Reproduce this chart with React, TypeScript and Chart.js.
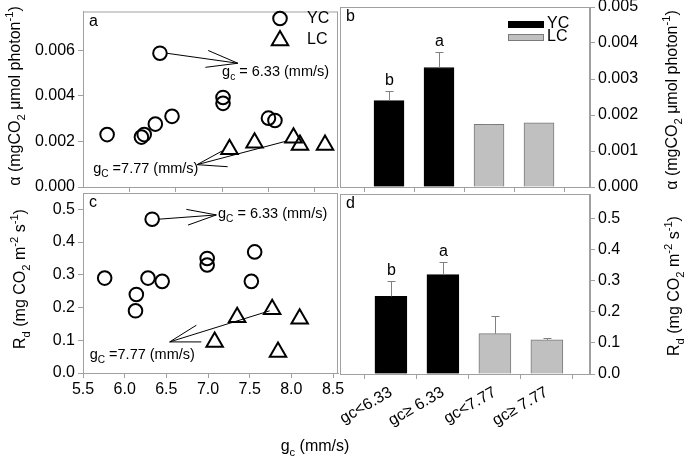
import React, { useEffect, useRef } from 'react';
import { Chart, registerables } from 'chart.js';
Chart.register(...registerables);

const W = 685;
const H = 462;
const FONT = '"Liberation Sans", Arial, sans-serif';
const AXIS = '#a0a0a0';

// ---- Panel a: alpha vs gc (scatter)
const gcYC_a = [5.76, 6.13, 6.16, 6.28, 6.33, 6.46, 7.01, 7.01, 7.50, 7.57];
const alphaYC = [0.0023, 0.00219, 0.0023, 0.00276, 0.00587, 0.0031, 0.00393, 0.00367, 0.00302, 0.00292];
const gcLC_a = [7.08, 7.35, 7.77, 7.84, 8.11];
const alphaLC = [0.00166, 0.00194, 0.00216, 0.00184, 0.00184];

// ---- Panel c: Rd vs gc (scatter)
const gcYC_c = [5.76, 6.14, 6.13, 6.28, 6.45, 6.33, 6.99, 6.99, 7.56, 7.52];
const rdYC = [0.29, 0.24, 0.19, 0.29, 0.28, 0.47, 0.35, 0.33, 0.37, 0.28];
const gcLC_c = [7.08, 7.35, 7.77, 7.84, 8.10];
const rdLC = [0.095, 0.17, 0.195, 0.064, 0.166];

// ---- Panels b, d: bar means
const categories = ['gc<6.33', 'gc\u2265 6.33', 'gc<7.77', 'gc\u2265 7.77'];
const groups = ['YC', 'YC', 'LC', 'LC'];
const alphaMeans = [0.0024, 0.00332, 0.00174, 0.00178];
const alphaErr = [0.00027, 0.00043, 0.00002, 0];
const alphaLetters = ['b', 'a', '', ''];
const rdMeans = [0.25, 0.32, 0.13, 0.11];
const rdErr = [0.05, 0.04, 0.057, 0.005];
const rdLetters = ['b', 'a', '', ''];

// ---- tick values
const alphaTicks = [0, 0.002, 0.004, 0.006];
const alphaBarTicks = [0, 0.001, 0.002, 0.003, 0.004, 0.005];
const rdTicks = [0, 0.1, 0.2, 0.3, 0.4, 0.5];
const gcTicksA = [6.0, 6.5, 7.0, 7.5, 8.0];
const gcTicksC = [5.5, 6.0, 6.5, 7.0, 7.5, 8.0, 8.5];
const barTicks = [1, 2, 3, 4];

type Seg = { t: string; sub?: boolean; sup?: boolean };
type Pt = [number, number];
interface Annot { tail: Pt; tip: Pt; barbs: Pt[]; text: Seg[]; textAt: Pt }

const annotsA: Annot[] = [
  { tail: [6.40, 0.00587], tip: [7.17, 0.00543], barbs: [[6.85, 0.00599], [6.82, 0.00525]],
    text: [{ t: 'g' }, { t: 'c', sub: true }, { t: ' = 6.33 (mm/s)' }], textAt: [7.0, 0.00512] },
  { tail: [7.70, 0.00202], tip: [6.73, 0.00098], barbs: [[7.0, 0.00158], [7.06, 0.00089]],
    text: [{ t: 'g' }, { t: 'C', sub: true }, { t: ' =7.77 (mm/s)' }], textAt: [5.61, 0.00086] },
];
const annotsC: Annot[] = [
  { tail: [6.41, 0.47], tip: [7.10, 0.483], barbs: [[6.74, 0.50], [6.76, 0.452]],
    text: [{ t: 'g' }, { t: 'C', sub: true }, { t: ' = 6.33 (mm/s)' }], textAt: [7.12, 0.49] },
  { tail: [7.74, 0.19], tip: [6.54, 0.095], barbs: [[6.86, 0.146], [6.92, 0.095]],
    text: [{ t: 'g' }, { t: 'C', sub: true }, { t: ' =7.77 (mm/s)' }], textAt: [5.58, 0.059] },
];

const titleAlpha: Seg[] = [{ t: '\u03b1 (mgCO' }, { t: '2', sub: true }, { t: ' \u03bcmol photon' }, { t: '-1', sup: true }, { t: ')' }];
const titleRd: Seg[] = [{ t: 'R' }, { t: 'd', sub: true }, { t: ' (mg CO' }, { t: '2', sub: true }, { t: ' m' }, { t: '-2', sup: true }, { t: ' s' }, { t: '-1', sup: true }, { t: ')' }];
const titleX: Seg[] = [{ t: 'g' }, { t: 'c', sub: true }, { t: ' (mm/s)' }];

function drawRich(ctx: CanvasRenderingContext2D, segs: Seg[], x: number, y: number, size: number, align: 'left' | 'center', angle = 0) {
  ctx.save();
  ctx.translate(x, y);
  ctx.rotate(angle);
  const small = size * 0.7;
  const widths = segs.map((s) => {
    ctx.font = `${s.sub || s.sup ? small : size}px ${FONT}`;
    return ctx.measureText(s.t).width;
  });
  const total = widths.reduce((a, b) => a + b, 0);
  let cx = align === 'center' ? -total / 2 : 0;
  ctx.textAlign = 'left';
  ctx.textBaseline = 'alphabetic';
  ctx.fillStyle = '#000';
  const base = size * 0.36;
  segs.forEach((s, i) => {
    ctx.font = `${s.sub || s.sup ? small : size}px ${FONT}`;
    const dy = s.sub ? size * 0.3 : s.sup ? -size * 0.42 : 0;
    ctx.fillText(s.t, cx, base + dy);
    cx += widths[i];
  });
  ctx.restore();
}

function drawTriangle(ctx: CanvasRenderingContext2D, x: number, y: number, r: number) {
  ctx.beginPath();
  ctx.moveTo(x, y - r);
  ctx.lineTo(x + 0.866 * r, y + 0.5 * r);
  ctx.lineTo(x - 0.866 * r, y + 0.5 * r);
  ctx.closePath();
  ctx.stroke();
}

interface Area { l: number; t: number; r: number; b: number }

const tickFont = { size: 16, family: FONT };

function boxPlugin(letter: string) {
  return {
    id: 'box' + letter,
    afterDraw(chart: any) {
      const { ctx, chartArea: a } = chart;
      ctx.save();
      ctx.strokeStyle = AXIS;
      ctx.lineWidth = 1;
      ctx.strokeRect(a.left + 0.5, a.top + 0.5, a.right - a.left - 1, a.bottom - a.top);
      ctx.fillStyle = '#000';
      ctx.font = `16px ${FONT}`;
      ctx.textAlign = 'left';
      ctx.textBaseline = 'middle';
      ctx.fillText(letter, a.left + 6, a.top + 10);
      ctx.restore();
    },
  };
}

function scatterConfig(p: {
  xs1: number[]; ys1: number[]; xs2: number[]; ys2: number[];
  xMin: number; xMax: number; xTicks: number[]; showX: boolean;
  yMax: number; yTicks: number[]; digits: number; area: Area; letter: string;
  annots: Annot[]; legend: boolean;
}): any {
  const { area } = p;
  return {
    type: 'scatter',
    data: {
      datasets: [
        { label: 'YC', data: p.xs1.map((x, i) => ({ x, y: p.ys1[i] })), pointStyle: 'circle', pointRadius: 6.8,
          borderWidth: 2, borderColor: '#000', backgroundColor: 'rgba(0,0,0,0)' },
        { label: 'LC', data: p.xs2.map((x, i) => ({ x, y: p.ys2[i] })), pointStyle: 'triangle', pointRadius: 9.5,
          borderWidth: 2, borderColor: '#000', backgroundColor: 'rgba(0,0,0,0)' },
      ],
    },
    options: {
      responsive: false,
      animation: false,
      events: [],
      layout: { padding: { left: 0, top: area.t, right: W - area.r, bottom: 0 } },
      plugins: { legend: { display: false }, tooltip: { enabled: false } },
      scales: {
        x: {
          type: 'linear', min: p.xMin, max: p.xMax,
          afterBuildTicks: (s: any) => { s.ticks = p.xTicks.map((v) => ({ value: v })); },
          afterFit: (s: any) => { s.height = H - area.b; s.paddingLeft = 0; s.paddingRight = 0; },
          grid: { display: true, drawOnChartArea: false, drawTicks: true, tickLength: 5, color: AXIS },
          border: { display: true, color: AXIS },
          ticks: { display: p.showX, font: tickFont, color: '#000', padding: 2, maxRotation: 0,
            callback: (v: any) => Number(v).toFixed(1) },
        },
        y: {
          type: 'linear', min: 0, max: p.yMax,
          afterBuildTicks: (s: any) => { s.ticks = p.yTicks.map((v) => ({ value: v })); },
          afterFit: (s: any) => { s.width = area.l; s.paddingTop = 0; s.paddingBottom = 0; },
          grid: { display: true, drawOnChartArea: false, drawTicks: true, tickLength: 5, color: AXIS },
          border: { display: true, color: AXIS },
          ticks: { font: tickFont, color: '#000', padding: 3, callback: (v: any) => Number(v).toFixed(p.digits) },
        },
      },
    },
    plugins: [
      boxPlugin(p.letter),
      {
        id: 'annot' + p.letter,
        afterDraw(chart: any) {
          const { ctx, scales, chartArea: a } = chart;
          const X = (v: number) => scales.x.getPixelForValue(v);
          const Y = (v: number) => scales.y.getPixelForValue(v);
          ctx.save();
          ctx.strokeStyle = '#000';
          ctx.lineWidth = 1;
          p.annots.forEach((an) => {
            ctx.beginPath();
            ctx.moveTo(X(an.tail[0]), Y(an.tail[1]));
            ctx.lineTo(X(an.tip[0]), Y(an.tip[1]));
            an.barbs.forEach((b) => {
              ctx.moveTo(X(an.tip[0]), Y(an.tip[1]));
              ctx.lineTo(X(b[0]), Y(b[1]));
            });
            ctx.stroke();
            drawRich(ctx, an.text, X(an.textAt[0]), Y(an.textAt[1]), 14.5, 'left');
          });
          if (p.legend) {
            ctx.lineWidth = 2;
            ctx.beginPath();
            ctx.arc(a.right - 58, a.top + 7, 6.8, 0, Math.PI * 2);
            ctx.stroke();
            drawTriangle(ctx, a.right - 58, a.top + 29, 9.5);
            ctx.fillStyle = '#000';
            ctx.font = `16px ${FONT}`;
            ctx.textAlign = 'left';
            ctx.textBaseline = 'middle';
            ctx.fillText('YC', a.right - 31, a.top + 7);
            ctx.fillText('LC', a.right - 31, a.top + 28);
          }
          ctx.restore();
        },
      },
    ],
  };
}

function barConfig(p: {
  means: number[]; errs: number[]; letters: string[]; yMax: number; yTicks: number[]; digits: number;
  xMin: number; xMax: number; thickness: number;
  area: Area; letter: string; showX: boolean; legend: boolean; titles: boolean;
}): any {
  const { area } = p;
  const mk = (g: string, fill: string, border: string) => ({
    label: g,
    data: p.means.map((m, i) => ({ x: i + 1, y: m })).filter((_, i) => groups[i] === g),
    backgroundColor: fill, borderColor: border, borderWidth: 1, barThickness: p.thickness, grouped: false,
  });
  return {
    type: 'bar',
    data: { datasets: [mk('YC', '#000000', '#000000'), mk('LC', '#c0c0c0', '#7a7a7a')] },
    options: {
      responsive: false,
      animation: false,
      events: [],
      layout: { padding: { left: area.l, top: area.t, right: 0, bottom: 0 } },
      plugins: { legend: { display: false }, tooltip: { enabled: false } },
      scales: {
        x: {
          type: 'linear', min: p.xMin, max: p.xMax, offset: false,
          afterBuildTicks: (s: any) => { s.ticks = barTicks.map((v) => ({ value: v })); },
          afterFit: (s: any) => { s.height = H - area.b; s.paddingLeft = 0; s.paddingRight = 0; },
          grid: { display: true, drawOnChartArea: false, drawTicks: true, tickLength: 5, color: AXIS },
          border: { display: true, color: AXIS },
          ticks: { display: p.showX, font: tickFont, color: '#000', padding: 4, minRotation: 30, maxRotation: 30,
            autoSkip: false, callback: (v: any) => categories[Number(v) - 1] ?? '' },
        },
        y: {
          type: 'linear', position: 'right', min: 0, max: p.yMax,
          afterBuildTicks: (s: any) => { s.ticks = p.yTicks.map((v) => ({ value: v })); },
          afterFit: (s: any) => { s.width = W - area.r; s.paddingTop = 0; s.paddingBottom = 0; },
          grid: { display: true, drawOnChartArea: false, drawTicks: true, tickLength: 5, color: AXIS },
          border: { display: true, color: AXIS },
          ticks: { font: tickFont, color: '#000', padding: 3, callback: (v: any) => Number(v).toFixed(p.digits) },
        },
      },
    },
    plugins: [
      boxPlugin(p.letter),
      {
        id: 'err' + p.letter,
        afterDatasetsDraw(chart: any) {
          const { ctx, scales, chartArea: a } = chart;
          ctx.save();
          ctx.strokeStyle = '#808080';
          ctx.lineWidth = 1;
          p.means.forEach((m, i) => {
            const x = Math.round(scales.x.getPixelForValue(i + 1)) + 0.5;
            const yb = scales.y.getPixelForValue(m);
            const yt = scales.y.getPixelForValue(m + p.errs[i]);
            if (p.errs[i] > 0) {
              ctx.beginPath();
              ctx.moveTo(x, yb);
              ctx.lineTo(x, Math.round(yt) + 0.5);
              ctx.moveTo(x - 4, Math.round(yt) + 0.5);
              ctx.lineTo(x + 4, Math.round(yt) + 0.5);
              ctx.stroke();
            }
            if (p.letters[i]) {
              ctx.fillStyle = '#000';
              ctx.font = `16px ${FONT}`;
              ctx.textAlign = 'center';
              ctx.textBaseline = 'alphabetic';
              ctx.fillText(p.letters[i], x, yt - 6);
            }
          });
          if (p.legend) {
            ctx.fillStyle = '#000';
            ctx.fillRect(a.right - 82, a.top + 14, 36, 7);
            ctx.fillStyle = '#c0c0c0';
            ctx.fillRect(a.right - 82, a.top + 27, 36, 7);
            ctx.strokeStyle = '#7a7a7a';
            ctx.strokeRect(a.right - 81.5, a.top + 27.5, 35, 6);
            ctx.fillStyle = '#000';
            ctx.font = `16px ${FONT}`;
            ctx.textAlign = 'left';
            ctx.textBaseline = 'middle';
            ctx.fillText('YC', a.right - 43, a.top + 17);
            ctx.fillText('LC', a.right - 43, a.top + 30);
          }
          if (p.titles) {
            const r = -Math.PI / 2;
            drawRich(ctx, titleAlpha, 14, 96, 16, 'center', r);
            drawRich(ctx, titleRd, 19, 279, 16, 'center', r);
            drawRich(ctx, titleAlpha, 671, 100, 16, 'center', r);
            drawRich(ctx, titleRd, 673, 286, 16, 'center', r);
            drawRich(ctx, titleX, 315, 445, 16, 'center', 0);
          }
          ctx.restore();
        },
      },
    ],
  };
}

export default function App() {
  const ra = useRef<HTMLCanvasElement>(null);
  const rb = useRef<HTMLCanvasElement>(null);
  const rc = useRef<HTMLCanvasElement>(null);
  const rd = useRef<HTMLCanvasElement>(null);

  useEffect(() => {
    const charts = [
      new Chart(ra.current!, scatterConfig({
        xs1: gcYC_a, ys1: alphaYC, xs2: gcLC_a, ys2: alphaLC, xMin: 5.5, xMax: 8.25, xTicks: gcTicksA, showX: false,
        yMax: 0.0077, yTicks: alphaTicks, digits: 3, area: { l: 83, t: 8, r: 338, b: 187 }, letter: 'a',
        annots: annotsA, legend: true,
      })),
      new Chart(rb.current!, barConfig({
        means: alphaMeans, errs: alphaErr, letters: alphaLetters, yMax: 0.005, yTicks: alphaBarTicks, digits: 3,
        xMin: 0.02, xMax: 5.02, thickness: 30,
        area: { l: 340, t: 7, r: 590, b: 187 }, letter: 'b', showX: false, legend: true, titles: false,
      })),
      new Chart(rc.current!, scatterConfig({
        xs1: gcYC_c, ys1: rdYC, xs2: gcLC_c, ys2: rdLC, xMin: 5.5, xMax: 8.56, xTicks: gcTicksC, showX: true,
        yMax: 0.55, yTicks: rdTicks, digits: 1, area: { l: 83, t: 193, r: 338, b: 373 }, letter: 'c',
        annots: annotsC, legend: false,
      })),
      new Chart(rd.current!, barConfig({
        means: rdMeans, errs: rdErr, letters: rdLetters, yMax: 0.58, yTicks: rdTicks, digits: 1,
        xMin: 0.02, xMax: 4.83, thickness: 32,
        area: { l: 340, t: 194, r: 590, b: 374 }, letter: 'd', showX: true, legend: false, titles: true,
      })),
    ];
    return () => charts.forEach((c) => c.destroy());
  }, []);

  return (
    <div style={{ position: 'absolute', left: 0, top: 0, width: W, height: H, background: '#fff' }}>
      {[ra, rb, rc, rd].map((r, i) => (
        <canvas key={i} ref={r} width={W} height={H} style={{ position: 'absolute', left: 0, top: 0 }} />
      ))}
    </div>
  );
}
